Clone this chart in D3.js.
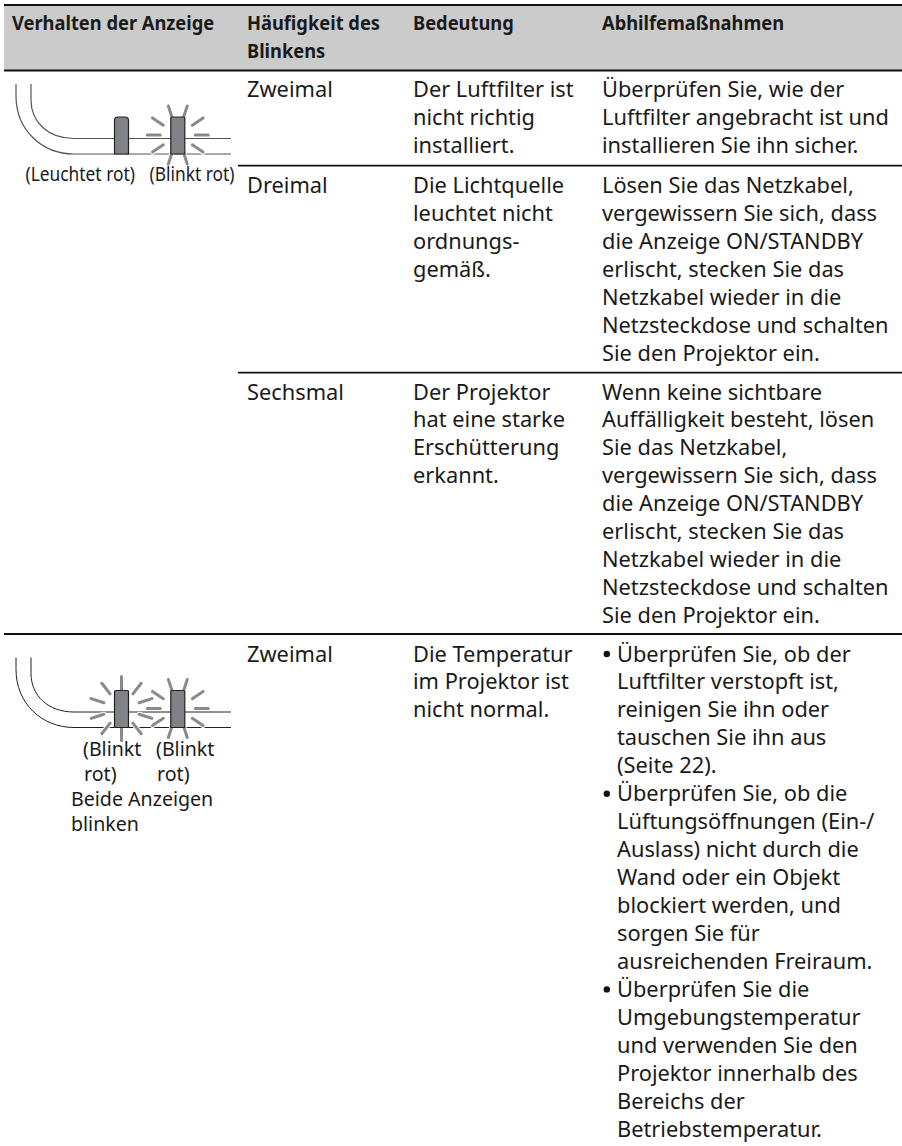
<!DOCTYPE html>
<html>
<head>
<meta charset="utf-8">
<script src="https://cdn.jsdelivr.net/npm/d3@7"></script>
<style>
  html, body { margin: 0; padding: 0; background: #fff; }
  text { font-family: "Noto Sans", sans-serif; fill: #1a1a1a; }
</style>
</head>
<body>
<div id="chart"></div>
<script>
const WIDTH = 902;
const HEIGHT = 1146;

// column headers, one array per header cell
const headerAnzeige = ['Verhalten der Anzeige'];
const headerHaeufigkeit = ['Häufigkeit des', 'Blinkens'];
const headerBedeutung = ['Bedeutung'];
const headerAbhilfe = ['Abhilfemaßnahmen'];

const columns = ['anzeige', 'haeufigkeit', 'bedeutung', 'abhilfe'];
const columnX = [12, 247, 413, 602];

// blink counts, in row order
const frequency = ['Zweimal', 'Dreimal', 'Sechsmal', 'Zweimal'];

const meaning = [
  ['Der Luftfilter ist', 'nicht richtig', 'installiert.'],
  ['Die Lichtquelle', 'leuchtet nicht', 'ordnungs-', 'gemäß.'],
  ['Der Projektor', 'hat eine starke', 'Erschütterung', 'erkannt.'],
  ['Die Temperatur', 'im Projektor ist', 'nicht normal.']
];

const remedy = [
  ['Überprüfen Sie, wie der', 'Luftfilter angebracht ist und', 'installieren Sie ihn sicher.'],
  ['Lösen Sie das Netzkabel,', 'vergewissern Sie sich, dass', 'die Anzeige ON/STANDBY', 'erlischt, stecken Sie das',
   'Netzkabel wieder in die', 'Netzsteckdose und schalten', 'Sie den Projektor ein.'],
  ['Wenn keine sichtbare', 'Auffälligkeit besteht, lösen', 'Sie das Netzkabel,', 'vergewissern Sie sich, dass',
   'die Anzeige ON/STANDBY', 'erlischt, stecken Sie das', 'Netzkabel wieder in die', 'Netzsteckdose und schalten',
   'Sie den Projektor ein.']
];

const remedyBullets = [
  ['Überprüfen Sie, ob der', 'Luftfilter verstopft ist,', 'reinigen Sie ihn oder', 'tauschen Sie ihn aus', '(Seite 22).'],
  ['Überprüfen Sie, ob die', 'Lüftungsöffnungen (Ein-/', 'Auslass) nicht durch die', 'Wand oder ein Objekt',
   'blockiert werden, und', 'sorgen Sie für', 'ausreichenden Freiraum.'],
  ['Überprüfen Sie die', 'Umgebungstemperatur', 'und verwenden Sie den', 'Projektor innerhalb des', 'Bereichs der',
   'Betriebstemperatur.']
];

// first baseline of each row
const rowBaseline = [97, 193, 399.5, 661.5];
const lineStep = 27.95;
const BODY_SIZE = 21.8;

const x = d3.scaleOrdinal().domain(columns).range(columnX);
const lineY = (row, i) => rowBaseline[row] + i * lineStep;

const svg = d3.select('#chart').append('svg')
  .attr('width', WIDTH)
  .attr('height', HEIGHT)
  .style('display', 'block');

// header band
svg.append('rect')
  .attr('x', 4).attr('y', 5)
  .attr('width', WIDTH - 4).attr('height', 65)
  .attr('fill', '#cbcbcb');

// rules
const rules = [
  { y: 5, x0: 4, w: 2.2 },
  { y: 70.5, x0: 4, w: 2.2 },
  { y: 165.7, x0: 238, w: 1.8 },
  { y: 372.7, x0: 238, w: 1.8 },
  { y: 634, x0: 4, w: 2 }
];
svg.append('g').selectAll('line').data(rules).join('line')
  .attr('x1', d => d.x0).attr('x2', WIDTH)
  .attr('y1', d => d.y).attr('y2', d => d.y)
  .attr('stroke', '#111').attr('stroke-width', d => d.w);

// header text, the original face is a condensed bold so squeeze it horizontally
const headers = [headerAnzeige, headerHaeufigkeit, headerBedeutung, headerAbhilfe];
const headG = svg.append('g');
headers.forEach((lines, c) => {
  headG.selectAll(null).data(lines).join('text')
    .attr('transform', (d, i) => `translate(${x(columns[c])},${29.5 + i * 28}) scale(0.915,1)`)
    .attr('font-size', 20)
    .attr('font-weight', 700)
    .text(d => d);
});

function drawLines(g, lines, px, row, start) {
  g.selectAll(null).data(lines).join('text')
    .attr('x', px)
    .attr('y', (d, i) => lineY(row, start + i))
    .attr('font-size', BODY_SIZE)
    .text(d => d);
}

const body = svg.append('g');
frequency.forEach((d, r) => drawLines(body.append('g'), [d], x('haeufigkeit'), r, 0));
meaning.forEach((d, r) => drawLines(body.append('g'), d, x('bedeutung'), r, 0));
remedy.forEach((d, r) => drawLines(body.append('g'), d, x('abhilfe'), r, 0));

let start = 0;
remedyBullets.forEach(lines => {
  body.append('circle')
    .attr('cx', x('abhilfe') + 4.8).attr('cy', lineY(3, start) - 7.5)
    .attr('r', 3.2).attr('fill', '#111');
  drawLines(body.append('g'), lines, x('abhilfe') + 15, 3, start);
  start += lines.length;
});

// ray angles in degrees around a blinking lamp, 0 is pointing right
const raysNarrow = [0, 34, 72, 108, 146, 180, -146, -108, -72, -34];
const raysWide = [90, 52, 18, -18, -52, -90, -128, -162, 162, 128];

function drawIcon(y0, lamps, lineColor, lineWidth) {
  const g = svg.append('g').attr('transform', `translate(0,${y0})`);
  const outer = d3.path();
  outer.moveTo(16, 0);
  outer.lineTo(16, 12);
  outer.bezierCurveTo(16, 46, 42, 70, 74, 70);
  outer.lineTo(231, 70);
  const inner = d3.path();
  inner.moveTo(31, 0);
  inner.lineTo(31, 16);
  inner.bezierCurveTo(31, 38, 48, 54.5, 74, 54.5);
  inner.lineTo(231, 54.5);
  [outer, inner].forEach(p => g.append('path').attr('d', p.toString())
    .attr('fill', 'none').attr('stroke', lineColor).attr('stroke-width', lineWidth));

  const cy = 51;
  lamps.forEach(l => {
    if (l.rays) {
      l.rays.forEach(a => {
        const t = a * Math.PI / 180;
        const ray = sel => sel
          .attr('x1', l.x + Math.cos(t) * l.r0)
          .attr('x2', l.x + Math.cos(t) * l.r1)
          .attr('y1', cy + Math.sin(t) * l.r0)
          .attr('y2', cy + Math.sin(t) * l.r1)
          .attr('stroke-linecap', 'round');
        g.append('line').call(ray).attr('stroke', '#fff').attr('stroke-width', 5);
        g.append('line').call(ray).attr('stroke', '#8a8a8a').attr('stroke-width', 3);
      });
    }
    g.append('path')
      .attr('d', () => {
        const p = d3.path();
        const r = l.rays ? 1 : 3.5;
        p.moveTo(l.x - 7, 70);
        p.lineTo(l.x - 7, 33 + r);
        p.quadraticCurveTo(l.x - 7, 33, l.x - 7 + r, 33);
        p.lineTo(l.x + 7 - r, 33);
        p.quadraticCurveTo(l.x + 7, 33, l.x + 7, 33 + r);
        p.lineTo(l.x + 7, 70);
        p.closePath();
        return p.toString();
      })
      .attr('fill', '#808285').attr('stroke', '#222').attr('stroke-width', 1.2);
  });
}

drawIcon(84, [{ x: 121.5 }, { x: 177.8, r0: 17.5, r1: 30.5, rays: raysNarrow }], '#555', 1.2);
drawIcon(657.5, [{ x: 121.5, r0: 18.5, r1: 32, rays: raysWide },
                 { x: 177.8, r0: 17.5, r1: 30.5, rays: raysNarrow }], '#222', 1);

// icon captions
const captionTop = [{ t: '(Leuchtet rot)', x: 25.5 }, { t: '(Blinkt rot)', x: 149.5 }];
svg.append('g').selectAll('text').data(captionTop).join('text')
  .attr('transform', d => `translate(${d.x},180.5) scale(0.885,1)`)
  .attr('font-size', 19.6).text(d => d.t);

const captionBottom = [
  { t: '(Blinkt', x: 83, y: 756 }, { t: '(Blinkt', x: 156, y: 756 },
  { t: 'rot)', x: 84, y: 781 }, { t: 'rot)', x: 157, y: 781 },
  { t: 'Beide Anzeigen', x: 71, y: 805.5 }, { t: 'blinken', x: 71, y: 830.5 }
];
svg.append('g').selectAll('text').data(captionBottom).join('text')
  .attr('x', d => d.x).attr('y', d => d.y)
  .attr('font-size', 19.6).text(d => d.t);
</script>
</body>
</html>
